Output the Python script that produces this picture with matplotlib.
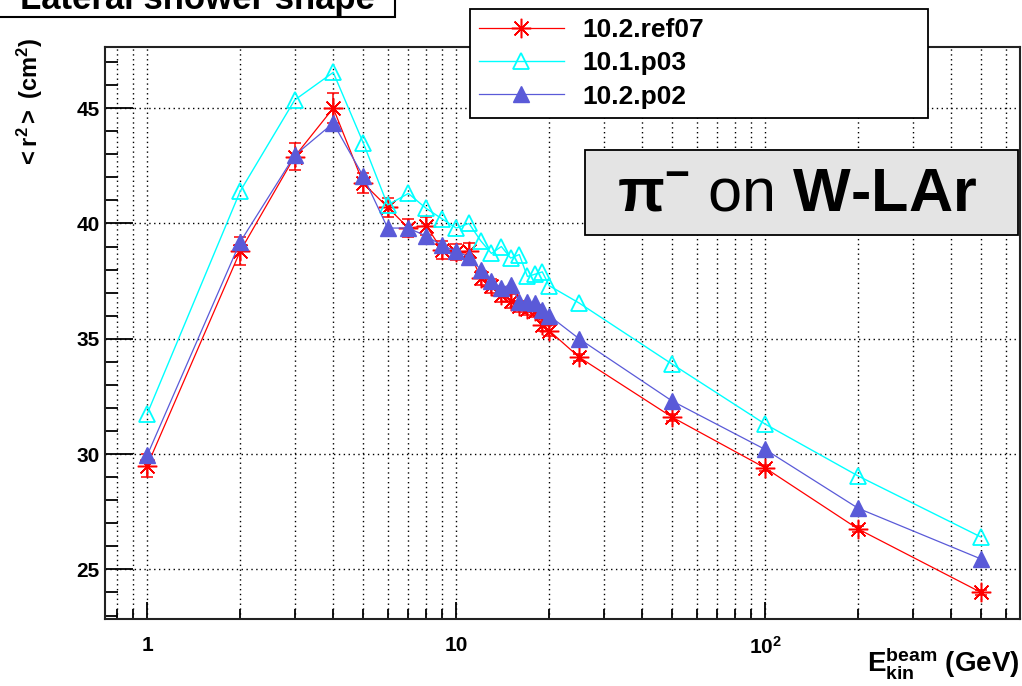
import matplotlib
matplotlib.use("Agg")
import matplotlib.pyplot as plt
import matplotlib.ticker as ticker
from matplotlib.patches import Rectangle

plt.rcParams["font.family"] = ["Liberation Sans", "DejaVu Sans"]
plt.rcParams["mathtext.fontset"] = "custom"
plt.rcParams["mathtext.rm"] = "Liberation Sans"
plt.rcParams["mathtext.bf"] = "Liberation Sans:bold"
plt.rcParams["mathtext.it"] = "Liberation Sans:italic"

# ── data ─────────────────────────────────────────────────────────────────────
energy = [1, 2, 3, 4, 5, 6, 7, 8, 9, 10, 11, 12, 13, 14, 15, 16, 17, 18, 19, 20,
          25, 50, 100, 200, 500]

ref07 = [29.5, 38.8, 42.9, 45.0, 41.75, 40.7, 39.8, 39.9, 38.85, 38.75, 38.8,
         37.65, 37.3, 36.9, 36.65, 36.4, 36.3, 36.2, 35.6, 35.35,
         34.2, 31.6, 29.4, 26.75, 24.0]
ref07_err = [0.5, 0.6, 0.6, 0.65, 0.45, 0.4, 0.4, 0.4, 0.4, 0.35, 0.35,
             0.3, 0.3, 0.3, 0.3, 0.25, 0.25, 0.25, 0.25, 0.25,
             0.15, 0.15, 0.12, 0.12, 0.1]

p03 = [31.75, 41.4, 45.35, 46.55, 43.5, 40.8, 41.3, 40.65, 40.2, 39.8, 40.0,
       39.25, 38.7, 39.0, 38.5, 38.65, 37.7, 37.8, 37.9, 37.3,
       36.55, 33.9, 31.3, 29.05, 26.4]

p02 = [29.95, 39.2, 42.95, 44.35, 42.05, 39.8, 39.8, 39.45, 39.05, 38.8, 38.55,
       38.0, 37.5, 37.2, 37.35, 36.6, 36.6, 36.55, 36.25, 36.0,
       35.0, 32.3, 30.2, 27.65, 25.45]

labels = ["10.2.ref07", "10.1.p03", "10.2.p02"]
yticks = [25, 30, 35, 40, 45]

W, H = 1022, 686
fig = plt.figure(figsize=(W / 100, H / 100), dpi=100)
ax = fig.add_axes([105 / W, 1 - 619 / H, (1020 - 105) / W, (619 - 47) / H])

red, cyan, blue = "#ff0000", "#00ffff", "#5a5ad8"

eb = ax.errorbar(energy, ref07, yerr=ref07_err, color=red, lw=0.9,
                 marker=(8, 2, 0), ms=14, mew=1.1, capsize=4, capthick=1.1,
                 elinewidth=1.1, zorder=3)
l2, = ax.plot(energy, p03, color=cyan, lw=1.0, marker="^", ms=12,
              mfc="none", mec=cyan, mew=1.3, zorder=4)
l3, = ax.plot(energy, p02, color=blue, lw=0.9, marker="^", ms=11,
              mfc=blue, mec=blue, zorder=5)

ax.set_xscale("log")
ax.set_xlim(0.73, 668)
ax.set_ylim(22.85, 47.65)

ax.set_yticks(yticks)
ax.yaxis.set_minor_locator(ticker.MultipleLocator(1))
ax.xaxis.set_major_locator(ticker.FixedLocator([1, 10, 100]))
ax.xaxis.set_major_formatter(ticker.FixedFormatter(["1", "10", r"$\mathbf{10^{2}}$"]))
ax.xaxis.set_minor_locator(ticker.LogLocator(base=10, subs=range(2, 10)))
ax.xaxis.set_minor_formatter(ticker.NullFormatter())

ax.tick_params(axis="y", which="major", direction="in", length=20, width=1.3,
               labelsize=15, pad=4)
ax.tick_params(axis="y", which="minor", direction="in", length=9, width=1.3)
ax.tick_params(axis="x", which="major", direction="in", length=12, width=1.3,
               labelsize=15, pad=12)
ax.tick_params(axis="x", which="minor", direction="in", length=7, width=1.3)
for t in ax.get_xticklabels() + ax.get_yticklabels():
    t.set_fontweight("bold")

ax.grid(True, which="major", axis="y", color="black", lw=1.0, ls=(0, (1, 2.5)))
ax.grid(True, which="both", axis="x", color="black", lw=1.0, ls=(0, (1, 2.5)))
for s in ax.spines.values():
    s.set_linewidth(1.5)
    s.set_color("#222222")

# axis titles
fig.text(30 / W, 1 - 38 / H, r"$\mathbf{{<}r^{2}{>}\ (cm^{2})}$", rotation=90,
         ha="center", va="top", fontsize=17)
fig.text(1020 / W, 1 - 663 / H, r"$\mathbf{E_{kin}^{beam}}$ (GeV)", ha="right",
         va="center", fontsize=20, fontweight="bold")

# legend
leg = fig.legend([eb[0], l2, l3], labels, loc="upper left",
                 bbox_to_anchor=(470 / W, 1 - 9 / H - 0.1, (928 - 470) / W, 0.1),
                 mode="expand", fancybox=False, framealpha=1, edgecolor="black",
                 borderaxespad=0, borderpad=0.35, handlelength=3.2,
                 handletextpad=0.7, labelspacing=0.35,
                 prop={"weight": "bold", "size": 19})
leg.get_frame().set_linewidth(1.3)

# title box (cut off at the top, as in the reference)
fig.patches.append(Rectangle((-2 / W, 1 - 17 / H), 397 / W, 40 / H,
                             transform=fig.transFigure, fc="white", ec="black",
                             lw=1.5, zorder=1))
fig.text(197 / W, 1 - 9 / H, "Lateral shower shape", ha="center",
         va="baseline", fontsize=25, fontweight="bold", zorder=2)

# particle / target box
fig.patches.append(Rectangle((585 / W, 1 - 235 / H), 433 / W, 85 / H,
                             transform=fig.transFigure, fc="#e4e4e4", ec="black",
                             lw=1.3, zorder=1))
fig.text(797 / W, 1 - 195 / H, r"π$^{\mathbf{-}}$ $\mathrm{on}$ W-LAr",
         ha="center", va="center", fontsize=44, fontweight="bold", zorder=2)

fig.savefig("out.png", dpi=100)
